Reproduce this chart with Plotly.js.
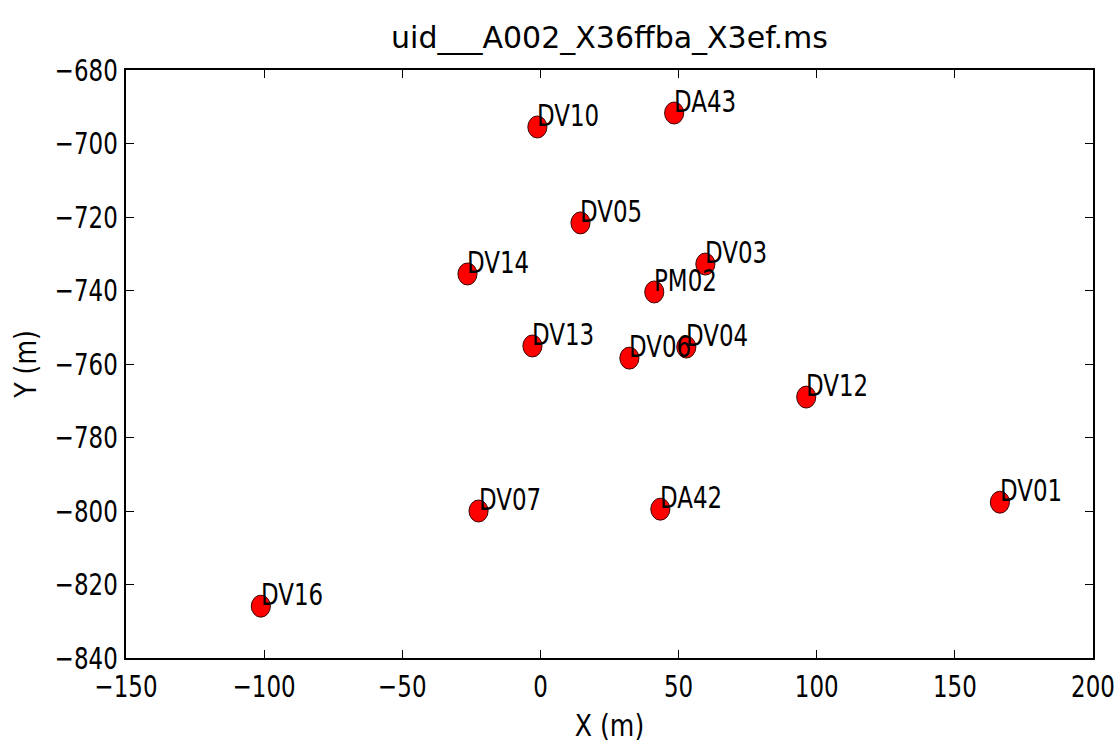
<!DOCTYPE html>
<html>
<head>
<meta charset="utf-8">
<script src="https://cdn.plot.ly/plotly-3.0.1.min.js"></script>
<style>
  html, body { margin: 0; padding: 0; background: #ffffff; }
  #chart { width: 1118px; height: 753px; }
</style>
</head>
<body>
<div id="chart"></div>
<script>
// Antenna positions (local X/Y offsets in metres)
const antennaNames = ["DV10", "DA43", "DV05", "DV14", "DV03", "PM02", "DV13",
                      "DV06", "DV04", "DV12", "DV07", "DA42", "DV01", "DV16"];
const antennaX = [-1.1, 48.4, 14.5, -26.4, 59.7, 41.2, -2.9,
                  32.2, 52.8, 96.2, -22.4, 43.4, 166.3, -101.2];
const antennaY = [-695.5, -691.7, -721.6, -735.5, -732.8, -740.4, -755.1,
                  -758.4, -755.4, -769.0, -800.0, -799.5, -797.6, -825.9];

const xTicks = [-150, -100, -50, 0, 50, 100, 150, 200];
const yTicks = [-840, -820, -800, -780, -760, -740, -720, -700, -680];

const baseFont = '"DejaVu Sans", sans-serif';

const trace = {
  type: 'scatter',
  mode: 'markers',
  x: antennaX,
  y: antennaY,
  text: antennaNames,
  hoverinfo: 'text',
  marker: {
    color: '#ff0000',
    size: 22,
    line: { color: '#2b0000', width: 1 }
  }
};

const labels = antennaNames.map((name, i) => ({
  x: antennaX[i],
  y: antennaY[i],
  xref: 'x',
  yref: 'y',
  text: name,
  showarrow: false,
  align: 'left',
  xanchor: 'left',
  yanchor: 'bottom',
  xshift: -2,
  yshift: -8,
  font: { family: baseFont, size: 31, color: '#000000' }
}));

const axisCommon = {
  showgrid: false,
  zeroline: false,
  showline: true,
  linecolor: '#000000',
  linewidth: 2,
  mirror: 'ticks',
  ticks: 'inside',
  ticklen: 8,
  tickwidth: 1,
  tickcolor: '#000000',
  ticklabeloverflow: 'allow',
  tickfont: { family: baseFont, size: 31, color: '#000000' }
};

const layout = {
  width: 1118,
  height: 753,
  paper_bgcolor: '#ffffff',
  plot_bgcolor: '#ffffff',
  showlegend: false,
  margin: { l: 126, r: 25, t: 70, b: 95 },
  title: {
    text: 'uid___A002_X36ffba_X3ef.ms',
    font: { family: baseFont, size: 30, color: '#000000' },
    xref: 'paper',
    x: 0.5,
    xanchor: 'center',
    y: 0.95,
    yanchor: 'middle'
  },
  xaxis: Object.assign({}, axisCommon, {
    range: [-150, 200],
    tickvals: xTicks,
    title: { text: 'X (m)', font: { family: baseFont, size: 30, color: '#000000' }, standoff: 12 }
  }),
  yaxis: Object.assign({}, axisCommon, {
    range: [-840, -680],
    tickvals: yTicks,
    title: { text: 'Y (m)', font: { family: baseFont, size: 30, color: '#000000' }, standoff: 3 }
  }),
  annotations: labels
};

// Narrow the glyphs horizontally (tall, condensed lettering)
function squeezeText(selector, factor) {
  document.querySelectorAll(selector).forEach(t => {
    const len = t.getComputedTextLength();
    if (len > 0) {
      t.setAttribute('textLength', (len * factor).toFixed(2));
      t.setAttribute('lengthAdjust', 'spacingAndGlyphs');
    }
  });
}

// Markers drawn slightly narrower than tall
function squeezeMarkers(factor) {
  document.querySelectorAll('.scatterlayer path.point').forEach(p => {
    const tr = p.getAttribute('transform') || '';
    p.setAttribute('transform', tr + ' scale(' + factor + ',1)');
  });
}

// Move the rotated y-axis title closer to the narrowed tick labels
function nudgeYTitle(dx) {
  const t = document.querySelector('text.ytitle');
  if (!t) return;
  const x = parseFloat(t.getAttribute('x')) + dx;
  const y = parseFloat(t.getAttribute('y'));
  t.setAttribute('x', x);
  t.setAttribute('transform', 'rotate(-90,' + x + ',' + y + ')');
}

Plotly.newPlot('chart', [trace], layout, { staticPlot: true, displayModeBar: false })
  .then(() => {
    squeezeText('.xtick text', 0.74);
    squeezeText('.ytick text', 0.74);
    squeezeText('.annotation-text', 0.74);
    squeezeText('.g-xtitle text', 0.84);
    squeezeText('.g-ytitle text', 0.84);
    squeezeMarkers(0.87);
    nudgeYTitle(8);
  });
</script>
</body>
</html>
